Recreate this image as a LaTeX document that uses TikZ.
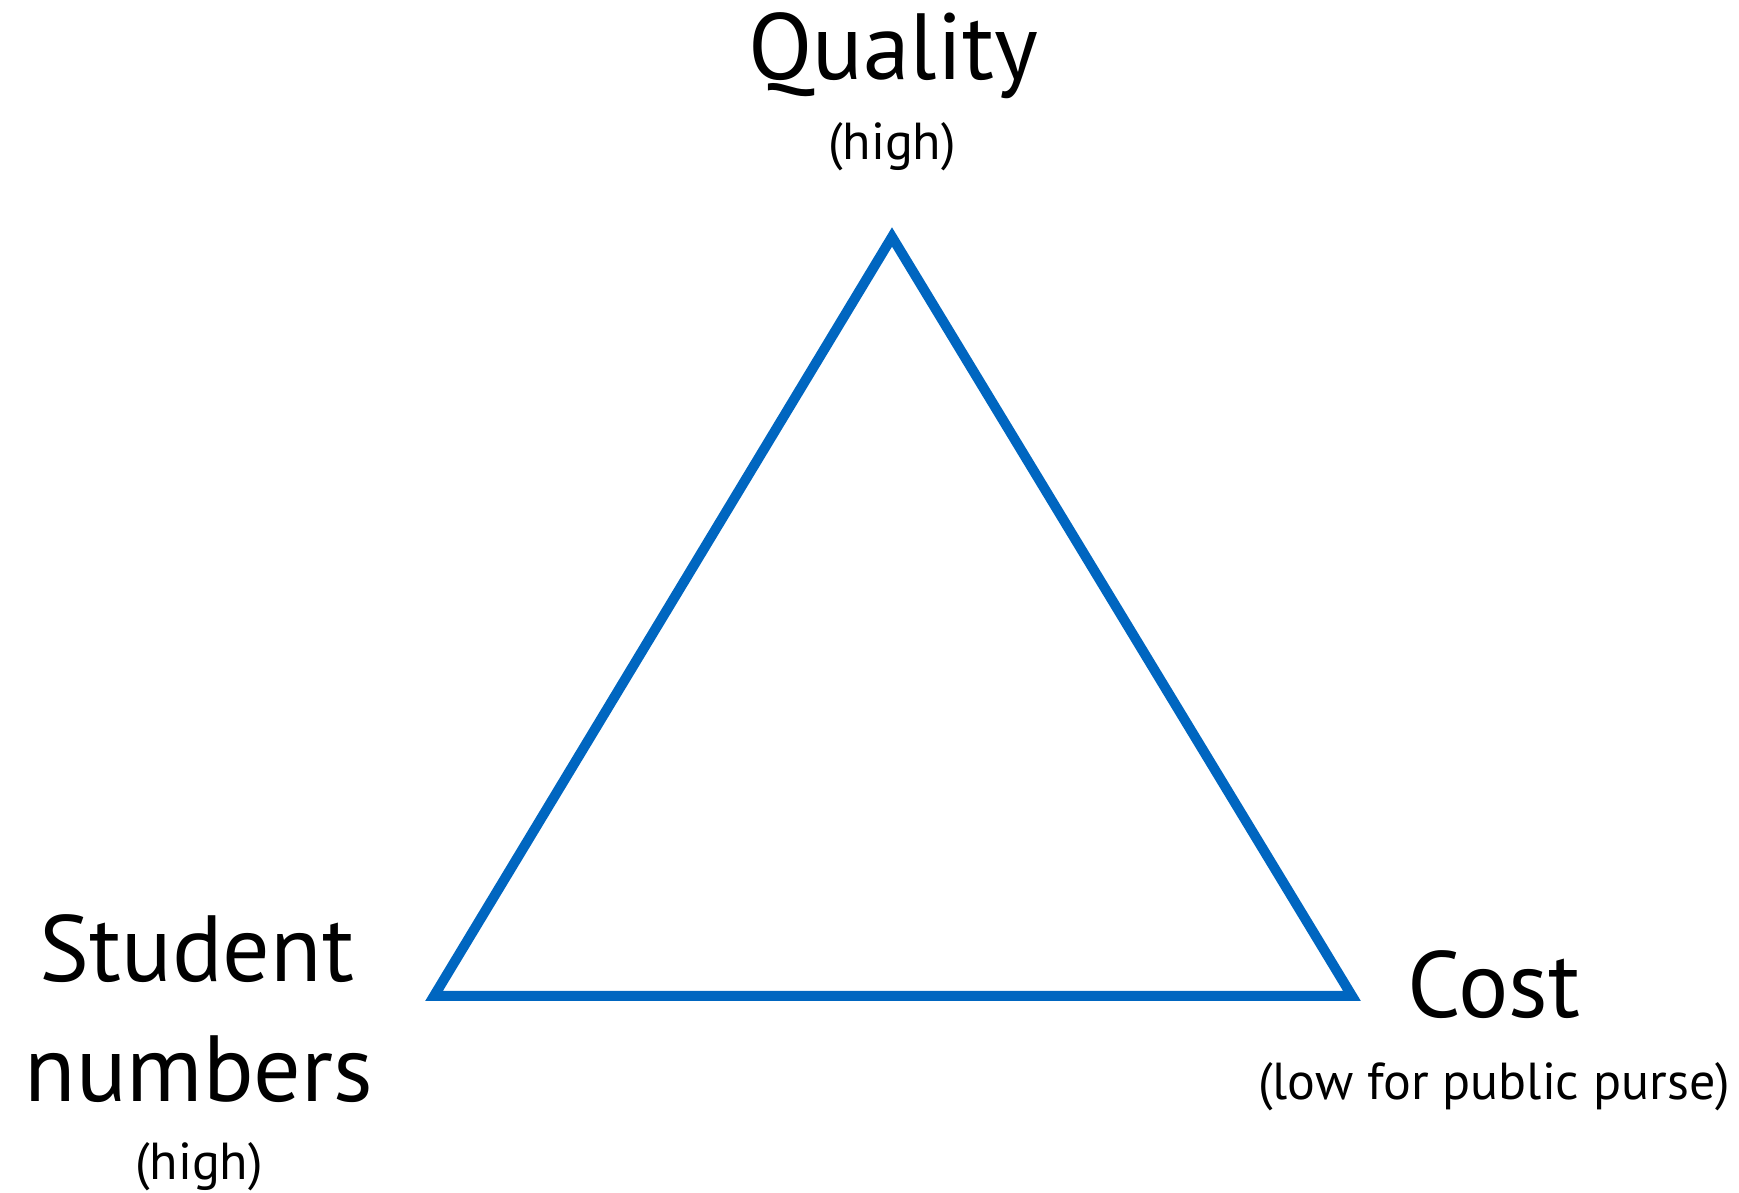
\documentclass[tikz,border=0pt]{standalone}
\usepackage{fontspec}
\setmainfont{PT Sans}
\usetikzlibrary{positioning}

\definecolor{triblue}{RGB}{0,102,192}

\begin{document}
\begin{tikzpicture}[
		x=0.5pt, y=0.5pt, % one unit = one pixel of the reference
		bigtext/.style={inner sep=0pt, anchor=base, font=\fontsize{47}{50}\selectfont},
		smalltext/.style={inner sep=0pt, anchor=base, font=\fontsize{26}{30}\selectfont},
		edge/.style={draw=triblue, line width=5pt, miter limit=10}
	]

	\useasboundingbox (0,0) rectangle (1739,1193);

	% Corners of the triangle
	\coordinate (top) at (892,956);
	\coordinate (left) at (434,197);
	\coordinate (right) at (1352,197);

	% Triangle
	\draw[edge] (top) -- (left) -- (right) -- cycle;

	% Top label
	\node[bigtext] (quality) at (893,1113) {Quality};
	\node[smalltext] (qualityhigh) at (892,1033) {(high)};

	% Left label
	\node[bigtext] (student) at (197,211) {Student};
	\node[bigtext] (numbers) at (199,91) {numbers};
	\node[smalltext] (numbershigh) at (199,13) {(high)};

	% Right label
	\node[bigtext] (cost) at (1494,175) {Cost};
	\node[smalltext] (costlow) at (1494,93) {(low for public purse)};

\end{tikzpicture}
\end{document}
